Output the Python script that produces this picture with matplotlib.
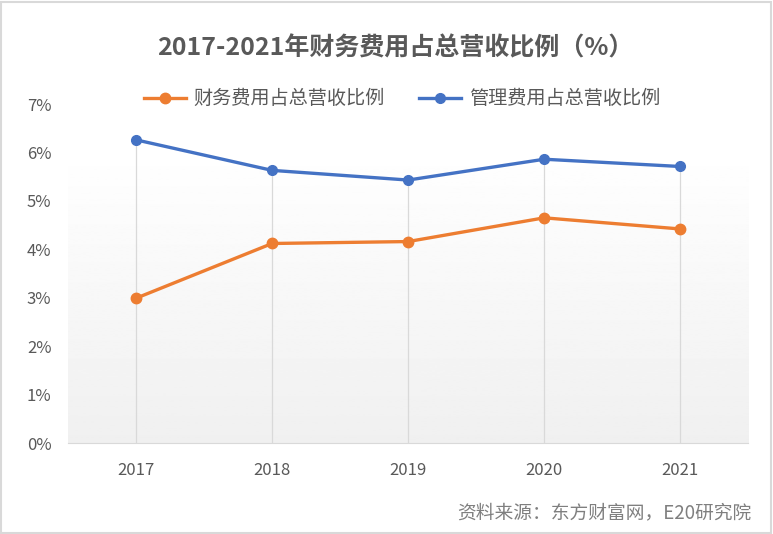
import matplotlib.pyplot as plt
import numpy as np
from matplotlib.patches import Rectangle

plt.rcParams['font.family'] = ['Noto Sans CJK SC', 'DejaVu Sans']

years = ['2017', '2018', '2019', '2020', '2021']
caiwu = [2.99, 4.12, 4.16, 4.65, 4.42]   # 财务费用占总营收比例 (%)
guanli = [6.26, 5.63, 5.43, 5.86, 5.71]  # 管理费用占总营收比例 (%)
yticks = [0, 1, 2, 3, 4, 5, 6, 7]

fig = plt.figure(figsize=(7.73, 5.34), dpi=100)
ax = fig.add_axes([0.088, 0.1704, 0.880, 0.6348])

x = np.arange(len(years))

# gradient background of plot area
grad = np.linspace(0.94, 1.0, 256).reshape(-1, 1)
ax.imshow(grad, cmap='gray', vmin=0, vmax=1, aspect='auto',
          extent=[-0.5, 4.5, 0, 6.1], origin='lower', zorder=0)

# drop lines
top = np.maximum(caiwu, guanli)
ax.vlines(x, 0, top, color='#d9d9d9', lw=0.9, zorder=1)

ax.plot(x, caiwu, color='#ED7D31', lw=2.4, marker='o', ms=7.5,
        label='财务费用占总营收比例', zorder=3)
ax.plot(x, guanli, color='#4472C4', lw=2.4, marker='o', ms=7,
        label='管理费用占总营收比例', zorder=3)

ax.set_xlim(-0.5, 4.5)
ax.set_ylim(0, 7)
ax.set_xticks(x)
ax.set_xticklabels(years)
ax.set_yticks(yticks)
ax.set_yticklabels([f'{v}%' for v in yticks])
ax.tick_params(length=0, labelsize=12, colors='#595959')
ax.tick_params(axis='x', pad=14)
ax.tick_params(axis='y', pad=12)
for s in ['top', 'right', 'left']:
    ax.spines[s].set_visible(False)
ax.spines['bottom'].set_color('#d9d9d9')

fig.text(0.511, 0.91, '2017-2021年财务费用占总营收比例（%）', ha='center',
         va='center', fontsize=18, fontweight='bold', color='#595959')

fig.legend(loc='center', bbox_to_anchor=(0.52, 0.815), ncol=2, frameon=False,
           fontsize=13.8, labelcolor='#595959', handlelength=2.2,
           columnspacing=1.8, handletextpad=0.4)

fig.text(0.972, 0.04, '资料来源：东方财富网，E20研究院', ha='right', va='center',
         fontsize=13.5, color='#7f7f7f')

fig.patches.append(Rectangle((0.001, 0.002), 0.997, 0.995, transform=fig.transFigure,
                             fill=False, edgecolor='#d9d9d9', lw=1.5))

fig.savefig('out.png', dpi=100)
